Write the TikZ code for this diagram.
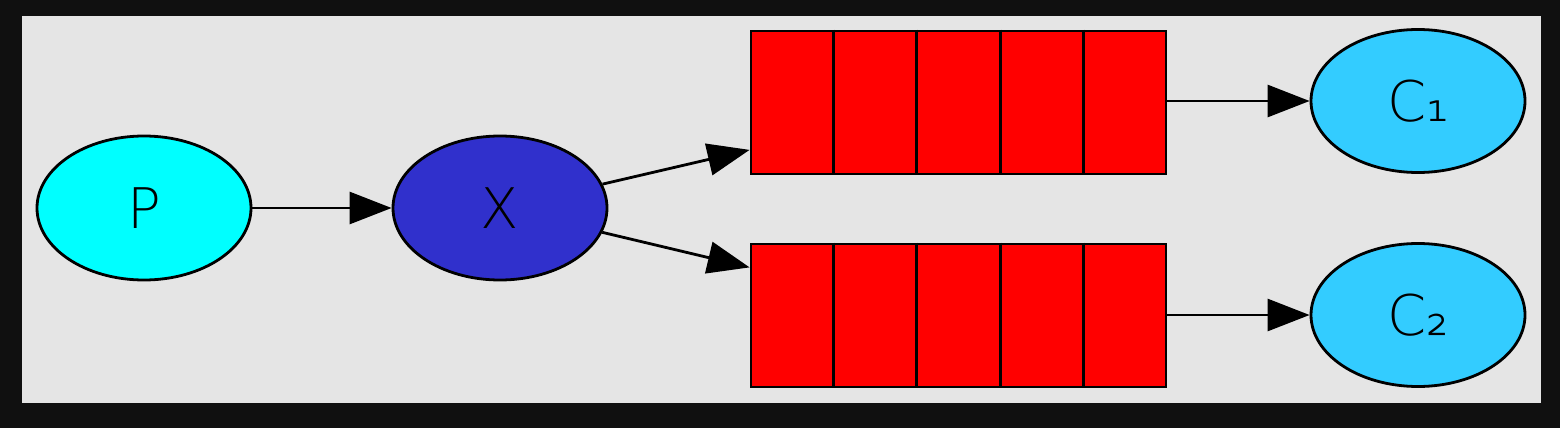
\documentclass[tikz,border=0pt]{standalone}
\usepackage{fontspec}
\setmainfont{DejaVu Sans ExtraLight}
\usetikzlibrary{shapes.geometric,arrows.meta,calc}
\definecolor{frame}{HTML}{101010}
\definecolor{canvas}{HTML}{E5E5E5}
\definecolor{pcol}{HTML}{00FFFF}
\definecolor{xcol}{HTML}{3030CC}
\definecolor{ccol}{HTML}{33CCFF}
\definecolor{qcol}{HTML}{FF0000}
\tikzset{
  oval/.style={ellipse,draw=black,line width=2.8pt,minimum width=214pt,minimum height=144pt,inner sep=0pt,font=\fontsize{56}{60}\selectfont},
  queue/.style={rectangle,draw=black,line width=2.8pt,fill=qcol,minimum width=415pt,minimum height=143pt,inner sep=0pt},
  cell/.style={draw=black,line width=2.8pt},
  link/.style={draw=black,line width=2.8pt,-{Triangle[length=42pt,width=32pt]},shorten >=0pt}
}
\begin{document}
\begin{tikzpicture}[x=1pt,y=-1pt]
\fill[frame] (0,0) rectangle (1560,428);
\fill[canvas] (22,16) rectangle (1541,403);
\useasboundingbox (0,0) rectangle (1560,428);
\node[oval,fill=pcol] (p) at (144,208) {P};
\node[oval,fill=xcol] (x) at (500,208) {X};
\node[queue] (q1) at (958.5,102.5) {};
\node[queue] (q2) at (958.5,315.5) {};
\node[oval,fill=ccol,minimum height=143pt] (c1) at (1418,101) {C₁};
\node[oval,fill=ccol,minimum height=143pt] (c2) at (1418,315) {C₂};
\foreach \q in {q1,q2}{
  \foreach \f in {0.2,0.4,0.6,0.8}{
    \draw[cell] ($(\q.north west)!\f!(\q.north east)$) -- ($(\q.south west)!\f!(\q.south east)$);
  }
}
\coordinate (q1in) at ($(q1.south west)!0.175!(q1.north west)$);
\coordinate (q2in) at ($(q2.north west)!0.17!(q2.south west)$);
\draw[link] (p) -- (x);
\draw[link] (x) -- (q1in);
\draw[link] (x) -- (q2in);
\draw[link] (q1.east |- c1) -- (c1);
\draw[link] (q2.east |- c2) -- (c2);
\end{tikzpicture}
\end{document}
